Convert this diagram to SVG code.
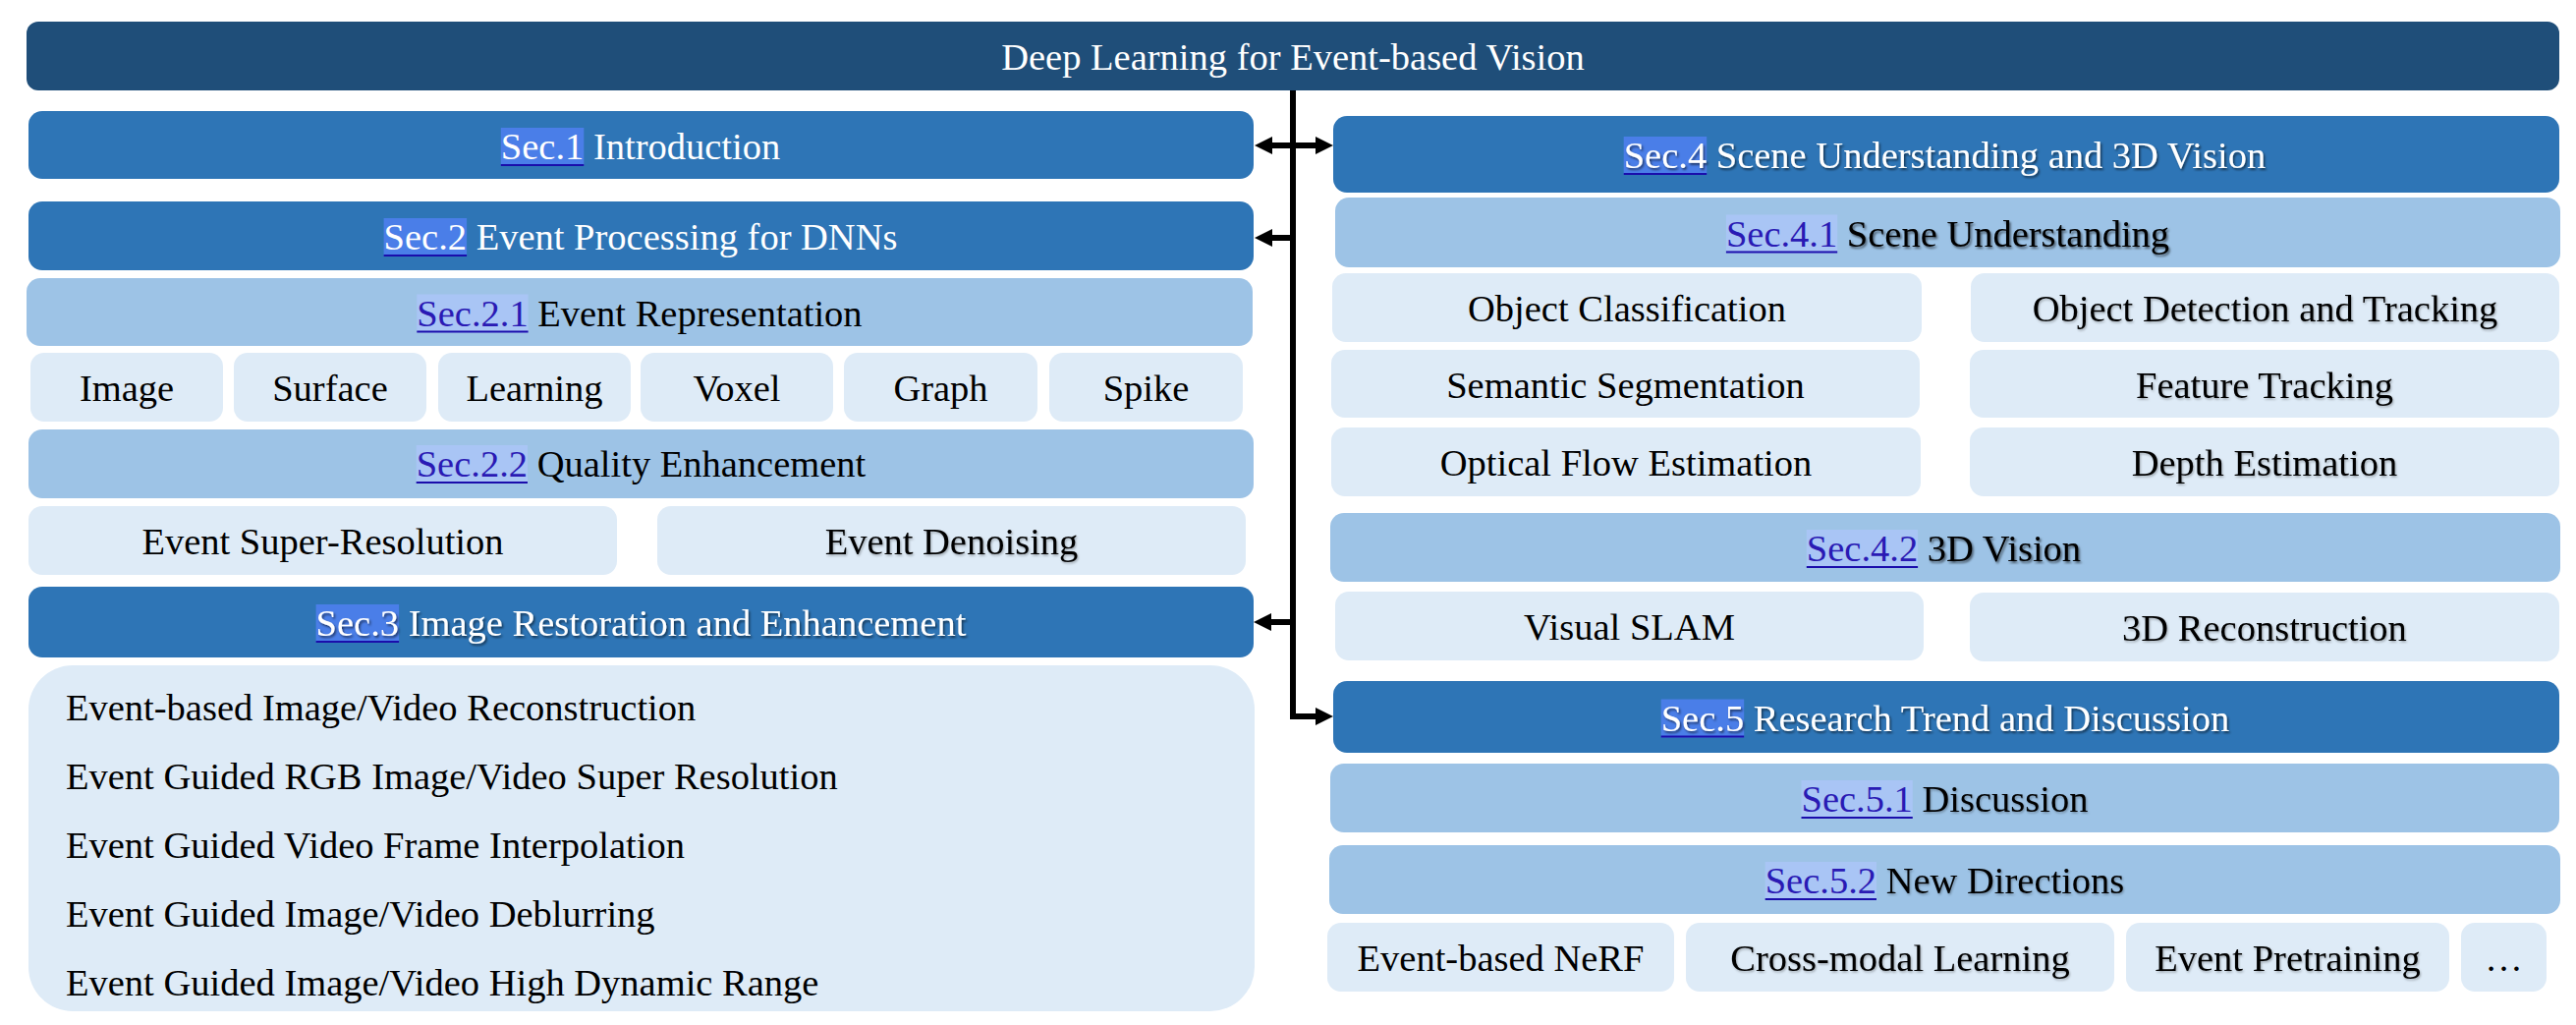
<svg xmlns="http://www.w3.org/2000/svg" width="2622" height="1043" viewBox="0 0 2622 1043">
<style>
text{font-family:"Liberation Serif","Times New Roman",serif;font-size:38.5px;fill:#000}
.w{fill:#fff}
.c{text-anchor:middle}
.lnk{fill:#2A1AB4}
.top{fill:#1F4E79}
.sec{fill:#2E75B6}
.sub{fill:#9DC3E6}
.item{fill:#DEEBF7}
.hd{fill:#4A7EE8}
.hl{fill:#A9C5F5}
.ul{fill:#1A0DAB}
.conn{fill:none;stroke:#000;stroke-width:6;stroke-linejoin:miter}
</style>
<defs>
<marker id="ah" viewBox="0 0 18 18" markerWidth="18" markerHeight="18" refX="2" refY="9" orient="auto" markerUnits="userSpaceOnUse"><path d="M0,0 L18,9 L0,18 Z" fill="#000"/></marker>
<filter id="sh" x="-10%" y="-30%" width="120%" height="160%"><feDropShadow dx="1.5" dy="2" stdDeviation="1.3" flood-color="#000" flood-opacity="0.55"/></filter>
<filter id="sh2" x="-10%" y="-30%" width="120%" height="160%"><feDropShadow dx="1" dy="1.5" stdDeviation="1" flood-color="#000" flood-opacity="0.3"/></filter>
</defs>

<g id="connectors">
<path class="conn" d="M1316,92 V729 H1341" marker-end="url(#ah)"/>
<path class="conn" d="M1316,148 H1293" marker-end="url(#ah)"/>
<path class="conn" d="M1316,148 H1341" marker-end="url(#ah)"/>
<path class="conn" d="M1316,242 H1293" marker-end="url(#ah)"/>
<path class="conn" d="M1316,633 H1292" marker-end="url(#ah)"/>
</g>

<g id="root"><rect class="top" x="27" y="22" width="2578" height="70" rx="12"/><text class="w c" x="1316" y="71">Deep Learning for Event-based Vision</text></g>

<g id="sec1"><rect class="sec" x="29" y="113" width="1247" height="69" rx="14"/>
<rect class="hd" x="509.8" y="130" width="84.5" height="39"/><rect class="ul" x="509.8" y="167" width="84.5" height="2"/>
<text class="w" x="509.8" y="162">Sec.1 Introduction</text></g>

<g id="sec2"><rect class="sec" x="29" y="205" width="1247" height="70" rx="14"/>
<rect class="hd" x="390.6" y="222" width="84.5" height="39"/><rect class="ul" x="390.6" y="259" width="84.5" height="2"/>
<text class="w" x="390.6" y="254">Sec.2 Event Processing for DNNs</text></g>

<g id="sec2-1"><rect class="sub" x="27" y="283" width="1248" height="69" rx="14"/>
<rect class="hl" x="424.3" y="299.5" width="113.3" height="39"/><rect class="ul" x="424.3" y="336.5" width="113.3" height="2"/>
<text x="424.3" y="331.5"><tspan class="lnk">Sec.2.1</tspan> Event Representation</text></g>

<g id="rep-image"><rect class="item" x="31" y="359" width="196" height="70" rx="14"/><text class="c" x="129" y="408">Image</text></g>
<g id="rep-surface"><rect class="item" x="238" y="359" width="196" height="70" rx="14"/><text class="c" x="336" y="408">Surface</text></g>
<g id="rep-learning"><rect class="item" x="446" y="359" width="196" height="70" rx="14"/><text class="c" x="544" y="408">Learning</text></g>
<g id="rep-voxel"><rect class="item" x="652" y="359" width="196" height="70" rx="14"/><text class="c" x="750" y="408">Voxel</text></g>
<g id="rep-graph"><rect class="item" x="859" y="359" width="197" height="70" rx="14"/><text class="c" x="957.5" y="408">Graph</text></g>
<g id="rep-spike"><rect class="item" x="1068" y="359" width="197" height="70" rx="14"/><text class="c" x="1166.5" y="408">Spike</text></g>

<g id="sec2-2"><rect class="sub" x="29" y="437" width="1247" height="70" rx="14"/>
<rect class="hl" x="423.7" y="453" width="113.3" height="39"/><rect class="ul" x="423.7" y="490" width="113.3" height="2"/>
<text x="423.7" y="485"><tspan class="lnk">Sec.2.2</tspan> Quality Enhancement</text></g>

<g id="q-sr"><rect class="item" x="29" y="515" width="599" height="70" rx="14"/><text class="c" x="328.5" y="564">Event Super-Resolution</text></g>
<g id="q-dn"><rect class="item" x="669" y="515" width="599" height="70" rx="14"/><text class="c" x="968.5" y="564" filter="url(#sh2)">Event Denoising</text></g>

<g id="sec3"><rect class="sec" x="29" y="597" width="1247" height="72" rx="14"/>
<rect class="hd" x="321.6" y="615" width="84.5" height="39"/><rect class="ul" x="321.6" y="652" width="84.5" height="2"/>
<text class="w" x="321.6" y="647" filter="url(#sh)">Sec.3 Image Restoration and Enhancement</text></g>

<g id="sec3-list"><rect class="item" x="29" y="677" width="1248" height="352" rx="45"/>
<text x="67" y="733">Event-based Image/Video Reconstruction</text>
<text x="67" y="803">Event Guided RGB Image/Video Super Resolution</text>
<text x="67" y="873">Event Guided Video Frame Interpolation</text>
<text x="67" y="943">Event Guided Image/Video Deblurring</text>
<text x="67" y="1013">Event Guided Image/Video High Dynamic Range</text></g>

<g id="sec4"><rect class="sec" x="1357" y="118" width="1248" height="78" rx="14"/>
<rect class="hd" x="1652.7" y="139" width="84.5" height="39"/><rect class="ul" x="1652.7" y="176" width="84.5" height="2"/>
<text class="w" x="1652.7" y="171" filter="url(#sh)">Sec.4 Scene Understanding and 3D Vision</text></g>

<g id="sec4-1"><rect class="sub" x="1359" y="201" width="1247" height="71" rx="14"/>
<rect class="hl" x="1756.9" y="218.5" width="113.3" height="39"/><rect class="ul" x="1756.9" y="255.5" width="113.3" height="2"/>
<text x="1756.9" y="250.5"><tspan class="lnk">Sec.4.1</tspan> <tspan filter="url(#sh)">Scene Understanding</tspan></text></g>

<g id="su-cls"><rect class="item" x="1356" y="278" width="600" height="70" rx="14"/><text class="c" x="1656" y="327">Object Classification</text></g>
<g id="su-det"><rect class="item" x="2006" y="278" width="599" height="70" rx="14"/><text class="c" x="2305.5" y="327" filter="url(#sh2)">Object Detection and Tracking</text></g>
<g id="su-seg"><rect class="item" x="1355" y="356" width="599" height="69" rx="14"/><text class="c" x="1654.5" y="404.5">Semantic Segmentation</text></g>
<g id="su-ft"><rect class="item" x="2005" y="356" width="600" height="69" rx="14"/><text class="c" x="2305" y="404.5" filter="url(#sh2)">Feature Tracking</text></g>
<g id="su-of"><rect class="item" x="1355" y="435" width="600" height="70" rx="14"/><text class="c" x="1655" y="484">Optical Flow Estimation</text></g>
<g id="su-depth"><rect class="item" x="2005" y="435" width="600" height="70" rx="14"/><text class="c" x="2305" y="484" filter="url(#sh2)">Depth Estimation</text></g>

<g id="sec4-2"><rect class="sub" x="1354" y="522" width="1252" height="70" rx="14"/>
<rect class="hl" x="1838.8" y="539" width="113.3" height="39"/><rect class="ul" x="1838.8" y="576" width="113.3" height="2"/>
<text x="1838.8" y="571"><tspan class="lnk">Sec.4.2</tspan> <tspan filter="url(#sh)">3D Vision</tspan></text></g>

<g id="v-slam"><rect class="item" x="1359" y="602" width="599" height="70" rx="14"/><text class="c" x="1658.5" y="651">Visual SLAM</text></g>
<g id="v-recon"><rect class="item" x="2005" y="603" width="600" height="70" rx="14"/><text class="c" x="2305" y="652" filter="url(#sh2)">3D Reconstruction</text></g>

<g id="sec5"><rect class="sec" x="1357" y="693" width="1248" height="73" rx="14"/>
<rect class="hd" x="1690.7" y="711.5" width="84.5" height="39"/><rect class="ul" x="1690.7" y="748.5" width="84.5" height="2"/>
<text class="w" x="1690.7" y="743.5" filter="url(#sh)">Sec.5 Research Trend and Discussion</text></g>

<g id="sec5-1"><rect class="sub" x="1354" y="777" width="1251" height="70" rx="14"/>
<rect class="hl" x="1833.5" y="794" width="113.3" height="39"/><rect class="ul" x="1833.5" y="831" width="113.3" height="2"/>
<text x="1833.5" y="826"><tspan class="lnk">Sec.5.1</tspan> <tspan filter="url(#sh2)">Discussion</tspan></text></g>

<g id="sec5-2"><rect class="sub" x="1353" y="860" width="1253" height="70" rx="14"/>
<rect class="hl" x="1796.7" y="877" width="113.3" height="39"/><rect class="ul" x="1796.7" y="914" width="113.3" height="2"/>
<text x="1796.7" y="909"><tspan class="lnk">Sec.5.2</tspan> <tspan filter="url(#sh2)">New Directions</tspan></text></g>

<g id="nd-nerf"><rect class="item" x="1351" y="939" width="353" height="70" rx="14"/><text class="c" x="1527.5" y="988">Event-based NeRF</text></g>
<g id="nd-cross"><rect class="item" x="1716" y="939" width="436" height="70" rx="14"/><text class="c" x="1934" y="988" filter="url(#sh2)">Cross-modal Learning</text></g>
<g id="nd-pre"><rect class="item" x="2164" y="939" width="329" height="70" rx="14"/><text class="c" x="2328.5" y="988" filter="url(#sh2)">Event Pretraining</text></g>
<g id="nd-more"><rect class="item" x="2505" y="939" width="87" height="70" rx="14"/><text class="c" x="2548.5" y="988">…</text></g>
</svg>
